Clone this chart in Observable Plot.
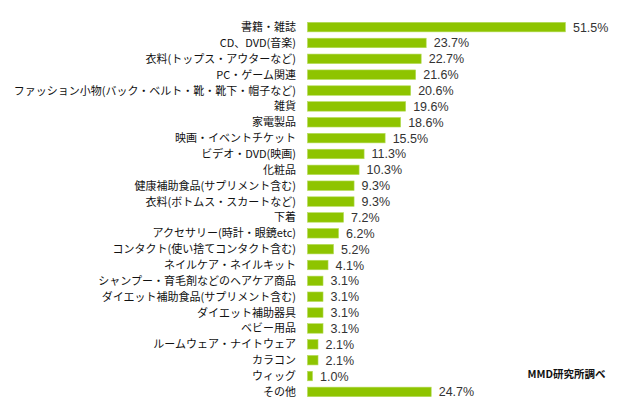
<!DOCTYPE html>
<html><head><meta charset="utf-8">
<script src="https://cdn.jsdelivr.net/npm/d3@7"></script>
<script src="https://cdn.jsdelivr.net/npm/@observablehq/plot@0.6"></script>
<style>
html,body{margin:0;padding:0;background:#fff;}
svg{display:block;}
</style>
</head><body>
<div id="chart"></div>
<script>
const categories = [
  "書籍・雑誌",
  "CD、DVD(音楽)",
  "衣料(トップス・アウターなど)",
  "PC・ゲーム関連",
  "ファッション小物(バック・ベルト・靴・靴下・帽子など)",
  "雑貨",
  "家電製品",
  "映画・イベントチケット",
  "ビデオ・DVD(映画)",
  "化粧品",
  "健康補助食品(サプリメント含む)",
  "衣料(ボトムス・スカートなど)",
  "下着",
  "アクセサリー(時計・眼鏡etc)",
  "コンタクト(使い捨てコンタクト含む)",
  "ネイルケア・ネイルキット",
  "シャンプー・育毛剤などのヘアケア商品",
  "ダイエット補助食品(サプリメント含む)",
  "ダイエット補助器具",
  "ベビー用品",
  "ルームウェア・ナイトウェア",
  "カラコン",
  "ウィッグ",
  "その他"
];
const values = [51.5, 23.7, 22.7, 21.6, 20.6, 19.6, 18.6, 15.5, 11.3, 10.3, 9.3, 9.3, 7.2, 6.2, 5.2, 4.1, 3.1, 3.1, 3.1, 3.1, 2.1, 2.1, 1.0, 24.7];
const source = "MMD研究所調べ";

const data = categories.map((c, i) => ({category: c, value: values[i]}));

const chart = Plot.plot({
  width: 634,
  height: 419,
  marginLeft: 307.5,
  marginRight: 26,
  marginTop: 16,
  marginBottom: 16,
  style: {fontFamily: "'Noto Sans CJK JP', sans-serif", background: "#fff"},
  x: {domain: [0, 60], axis: null},
  y: {domain: categories, padding: 0.4, round: false, label: null},
  marks: [
    Plot.barX(data, {x: "value", y: "category", fill: "#8ec400", stroke: "#b5dc5a", strokeWidth: 0.6}),
    Plot.text(data, {x: "value", y: "category", text: d => d.value.toFixed(1) + "%", textAnchor: "start", dx: 7, fontSize: 12.5, fill: "#333", fontFamily: "'Liberation Sans', Arial, sans-serif"}),
    Plot.axisY({tickSize: 0, tickPadding: 12, fontSize: 11, color: "#111", label: null}),
    Plot.text([source], {frameAnchor: "bottom-right", text: d => d, dx: -3, dy: -26, fontSize: 10.5, fontWeight: "bold", fill: "#111", letterSpacing: "0.3px"})
  ]
});
document.getElementById("chart").append(chart);
</script>
</body></html>
